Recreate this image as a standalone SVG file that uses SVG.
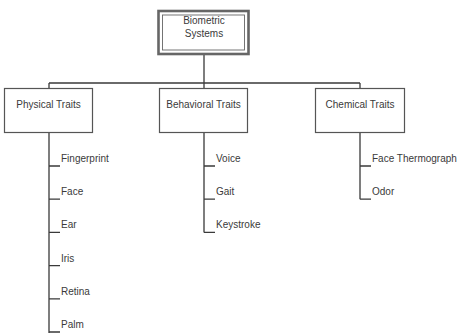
<svg xmlns="http://www.w3.org/2000/svg" width="459" height="333" viewBox="0 0 459 333">
<style>
text{font-family:"Liberation Sans",Arial,sans-serif;font-size:10px;fill:#3a3a3a}
.c{text-anchor:middle}
.box{fill:#fff;stroke:#555;stroke-width:1.2}
.ln{fill:none;stroke:#3a3a3a;stroke-width:1.3}
</style>
<rect width="459" height="333" fill="#fff"/>
<g id="connectors">
<path class="ln" d="M204,55 V83 M49,83 H360 M49,83 V88 M204,83 V88 M360,83 V88"/>
<path class="ln" d="M49,133 V333 M49,166 H60 M49,199.2 H60 M49,232.4 H60 M49,265.6 H60 M49,298.8 H60 M49,332 H60"/>
<path class="ln" d="M204,133 V232.4 M204,166 H215 M204,199.2 H215 M204,232.4 H215"/>
<path class="ln" d="M360,133 V199.2 M360,166 H371 M360,199.2 H371"/>
</g>
<g id="biometric">
<rect x="158.5" y="11" width="90" height="43" fill="#fff" stroke="#666" stroke-width="2.6"/>
<rect x="162.5" y="15" width="82" height="35" fill="none" stroke="#666" stroke-width="0.9"/>
<text class="c" x="204" y="24">Biometric</text>
<text class="c" x="204" y="37">Systems</text>
</g>
<g id="physical">
<rect class="box" x="4.5" y="88.5" width="88" height="44"/>
<text class="c" x="48.5" y="108">Physical Traits</text>
</g>
<g id="behavioral">
<rect class="box" x="159.5" y="88.5" width="88" height="44"/>
<text class="c" x="203.5" y="108">Behavioral Traits</text>
</g>
<g id="chemical">
<rect class="box" x="315.5" y="88.5" width="89" height="44"/>
<text class="c" x="360" y="108">Chemical Traits</text>
</g>
<g id="physical-items">
<text x="61" y="162">Fingerprint</text>
<text x="61" y="195.2">Face</text>
<text x="61" y="228.4">Ear</text>
<text x="61" y="261.6">Iris</text>
<text x="61" y="294.8">Retina</text>
<text x="61" y="328">Palm</text>
</g>
<g id="behavioral-items">
<text x="216" y="162">Voice</text>
<text x="216" y="195.2">Gait</text>
<text x="216" y="228.4">Keystroke</text>
</g>
<g id="chemical-items">
<text x="372" y="162">Face Thermograph</text>
<text x="372" y="195.2">Odor</text>
</g>
</svg>
